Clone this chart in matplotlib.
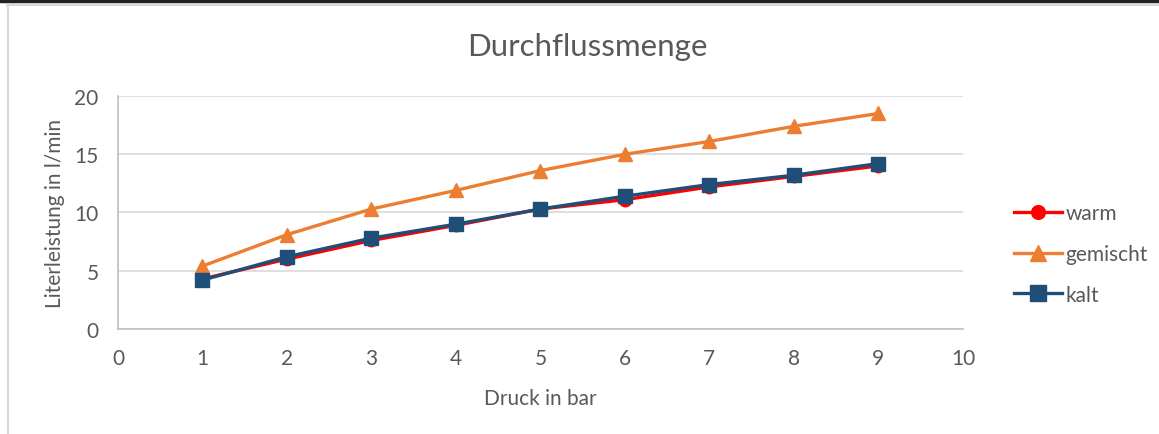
import matplotlib.pyplot as plt
from matplotlib.lines import Line2D

plt.rcParams['font.family'] = ['Lato', 'DejaVu Sans']

# data
druck = [1, 2, 3, 4, 5, 6, 7, 8, 9]
warm = [4.3, 6.0, 7.6, 8.9, 10.3, 11.1, 12.2, 13.1, 14.0]
gemischt = [5.4, 8.1, 10.3, 11.9, 13.6, 15.0, 16.1, 17.4, 18.5]
kalt = [4.2, 6.2, 7.8, 9.0, 10.3, 11.4, 12.4, 13.2, 14.2]

xticks = [0, 1, 2, 3, 4, 5, 6, 7, 8, 9, 10]
yticks = [0, 5, 10, 15, 20]

txt = '#595959'
grid = '#D9D9D9'

fig = plt.figure(figsize=(11.59, 4.35), dpi=100)
ax = fig.add_axes([0.1018, 0.2414, 0.729, 0.5356])

ax.plot(druck, warm, color='#FF0000', lw=2.4, marker='o', ms=9, label='warm', zorder=3)
ax.plot(druck, gemischt, color='#ED7D31', lw=2.4, marker='^', ms=10, label='gemischt', zorder=3)
ax.plot(druck, kalt, color='#1F4E79', lw=2.4, marker='s', ms=10, label='kalt', zorder=4)

ax.set_xlim(0, 10)
ax.set_ylim(0, 20)
ax.set_xticks(xticks)
ax.set_yticks(yticks)
ax.tick_params(length=0, labelsize=15, colors=txt)
ax.tick_params(axis='x', pad=14)
ax.tick_params(axis='y', pad=14)
ax.grid(axis='y', color=grid, lw=1.2)
ax.set_axisbelow(True)
for s in ['top', 'right']:
    ax.spines[s].set_visible(False)
for s in ['left', 'bottom']:
    ax.spines[s].set_color('#BFBFBF')
    ax.spines[s].set_linewidth(1.2)

# title is centred on the whole chart, not on the plot area
fig.text(0.507, 0.892, 'Durchflussmenge', fontsize=22.5, color=txt, ha='center', va='center')
ax.set_xlabel('Druck in bar', fontsize=15, color=txt, labelpad=14)
ax.set_ylabel('Literleistung in l/min', fontsize=15, color=txt, labelpad=7)

leg = ax.legend(loc='center left', frameon=False, fontsize=15, labelcolor=txt,
                handlelength=2.3, handletextpad=0.15, labelspacing=1.0,
                borderaxespad=0, markerscale=1.1)
leg.set_bbox_to_anchor((0.868, 0.414), transform=fig.transFigure)

# page borders around the chart
fig.add_artist(Line2D([0, 1], [0.996, 0.996], color='#222222', lw=2.5))
fig.add_artist(Line2D([0.006, 1], [0.987, 0.987], color='#D9D9D9', lw=1.5))
fig.add_artist(Line2D([0.0065, 0.0065], [0, 0.987], color='#D9D9D9', lw=1.5))

fig.savefig('out.png', dpi=100)
